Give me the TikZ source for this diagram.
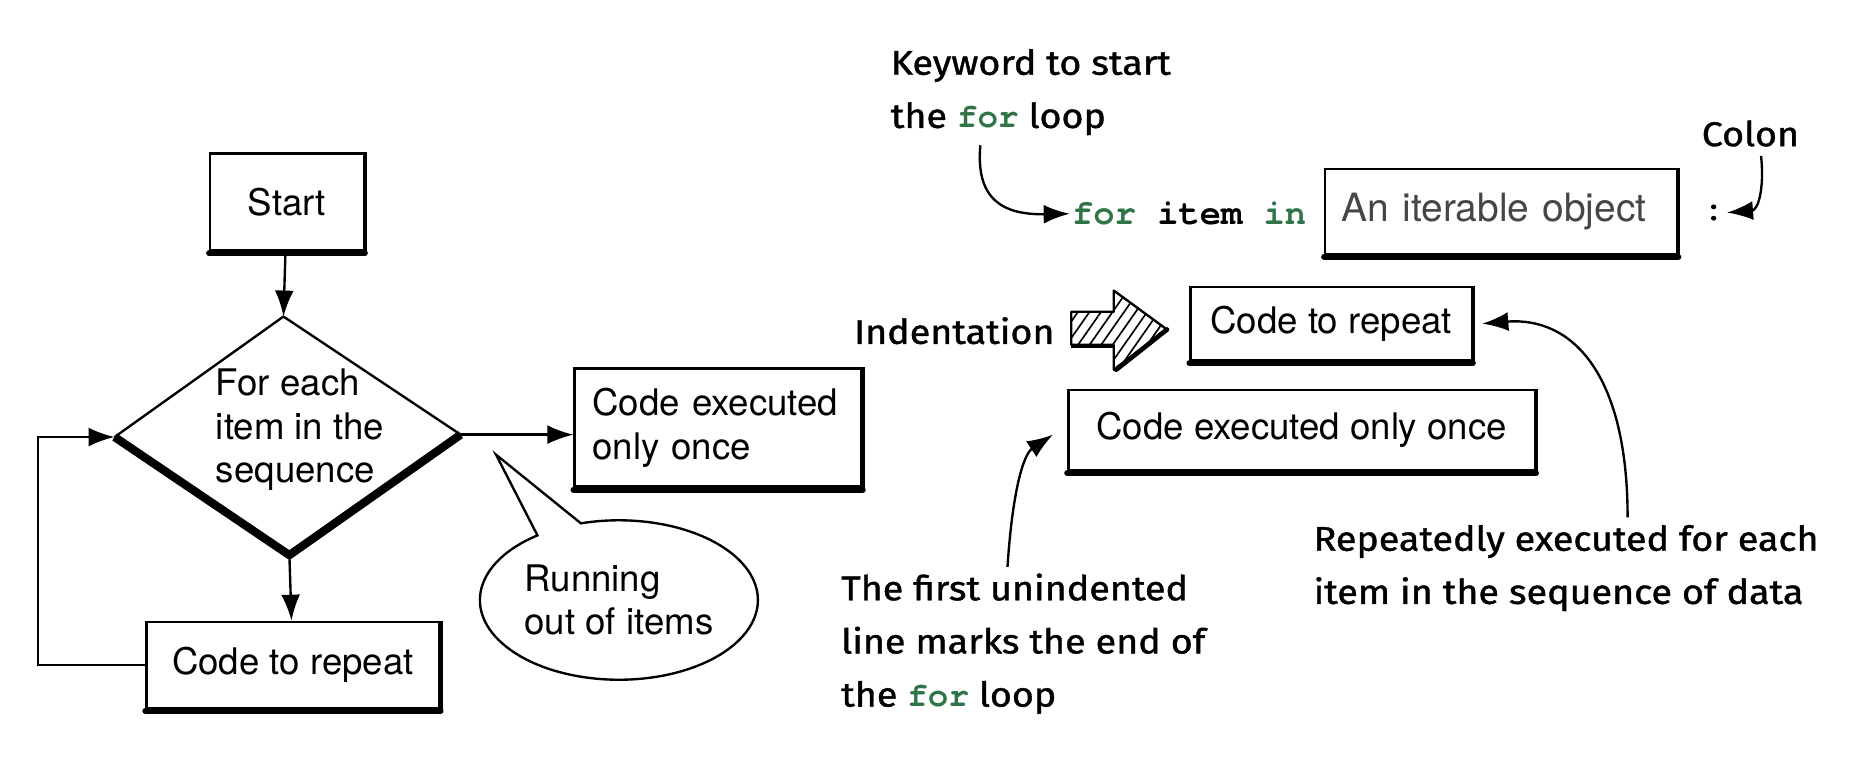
\documentclass[tikz,border=0pt]{standalone}
\usepackage{fontspec}
\setmainfont{TeX Gyre Heros}
\setmonofont{TeX Gyre Cursor}
\newfontfamily\handfont[FakeBold=1.2, FakeStretch=1.1]{Fira Sans}
\usetikzlibrary{arrows.meta}
\usetikzlibrary{shapes.callouts}
\usetikzlibrary{patterns.meta}
\definecolor{forgreen}{RGB}{47, 117, 72}
\definecolor{objgrey}{RGB}{70, 70, 70}
\newcommand\kwd[1]{{\ttfamily\bfseries\color{forgreen}#1}}
\tikzset{
  sketchbox/.style={draw, line width=2pt, inner sep=0pt, font=\fontsize{31}{37}\selectfont},
  heavy/.style={line width=5pt, line cap=round},
  flow/.style={line width=2pt, -{Latex[length=22pt, width=16pt]}},
  hand/.style={font=\handfont\fontsize{29}{45}\selectfont, align=left, inner sep=0pt},
}

\begin{document}
\begin{tikzpicture}[x=1pt, y=-1pt]
    \useasboundingbox (0,0) rectangle (1568,647);

    % flowchart
    \node [sketchbox, minimum width=130pt, minimum height=82pt] (start) at (243,171) {Start};
    \coordinate (dtop) at (240,268);
    \coordinate (dleft) at (97,370);
    \coordinate (dright) at (390,368);
    \coordinate (dbot) at (245,470);
    \draw [line width=2pt, line join=round] (dleft) -- (dtop) -- (dright);
    \draw [line width=7pt, line join=round] (dleft) -- (dbot) -- (dright);
    \node [align=left, font=\fontsize{31}{37}\selectfont] (test) at (254,364) {For each\\item in the\\sequence};
    \node [sketchbox, minimum width=248pt, minimum height=73pt] (repeatL) at (248,563) {Code to repeat};
    \node [sketchbox, minimum width=243pt, minimum height=100pt, align=left, text width=213pt] (onceL) at (608,362) {Code executed\\only once};
    \node [ellipse callout, draw, line width=2pt, minimum width=232pt, minimum height=135pt,
      callout absolute pointer={(420,385)}, callout pointer arc=20, align=left,
      font=\fontsize{31}{37}\selectfont] (bubble) at (524,508) {Running\\out of items};

    \draw [flow] (start) -- (dtop);
    \draw [flow] (dbot) -- (repeatL);
    \draw [flow] (dright) -- (dright -| onceL.west);
    \draw [flow] (repeatL.west) -- ++(-91,0) |- (dleft);

    % for statement
    \node [hand, anchor=west] (kw) at (754,78) {Keyword to start\\the \kwd{for} loop};
    \node [font=\ttfamily\bfseries\fontsize{30}{36}\selectfont, anchor=east, inner sep=2pt] (forline) at (1108,181)
      {\color{forgreen}for \color{black}item \color{forgreen}in};
    \node [sketchbox, minimum width=298pt, minimum height=72pt, text=objgrey, align=left, text width=270pt,
      font=\fontsize{33}{37}\selectfont] (iter) at (1271,179) {An iterable object};
    \node [font=\ttfamily\bfseries\fontsize{30}{36}\selectfont, inner sep=2pt] (colon) at (1451,180) {:};
    \node [hand] (colonlbl) at (1482,113) {Colon};

    \node [hand, anchor=east] (indent) at (893,280) {Indentation};
    \draw [line width=2pt, line join=round, pattern={Lines[angle=55, distance=8pt, line width=1.4pt]}]
      (907,264) -- (943,264) -- (943,246) -- (988,279) -- (943,313) -- (943,292) -- (907,292) -- cycle;
    \draw [line width=4pt] (907,293) -- (943,293);
    \draw [line width=4pt, line cap=round] (988,279) -- (945,313);

    \node [sketchbox, minimum width=238pt, minimum height=62pt] (repeatR) at (1127,274) {Code to repeat};
    \node [sketchbox, minimum width=395pt, minimum height=68pt] (onceR) at (1102,364) {Code executed only once};

    \node [hand, anchor=west] (repeated) at (1112,481) {Repeatedly executed for each\\item in the sequence of data};
    \node [hand, anchor=west] (unindent) at (712,545) {The first unindented\\line marks the end of\\the \kwd{for} loop};

    % thick lower and right edges of the boxes
    \foreach \n in {start,repeatL,onceL,iter,repeatR,onceR} {
      \draw [heavy] ([yshift=-1.5pt]\n.south west) -- ([yshift=-1.5pt]\n.south east);
      \draw [line width=3.5pt] (\n.south east) -- (\n.north east);
    }

    % pointers
    \coordinate (kwtail) at (830,123);
    \coordinate (colontail) at (1491,132);
    \coordinate (reptail) at (1378,438);
    \coordinate (untail) at (853,480);
    \draw [flow] (kwtail) .. controls (826,168) and (848,182) .. (forline.west);
    \draw [flow] (colontail) .. controls (1494,162) and (1488,178) .. (colon.east);
    \draw [flow] (reptail) .. controls (1378,315) and (1330,268) .. ([xshift=8pt]repeatR.east);
    \draw [flow] (untail) .. controls (857,418) and (866,385) .. ([xshift=-12pt,yshift=-4pt]onceR.west);
  \end{tikzpicture}
\end{document}
